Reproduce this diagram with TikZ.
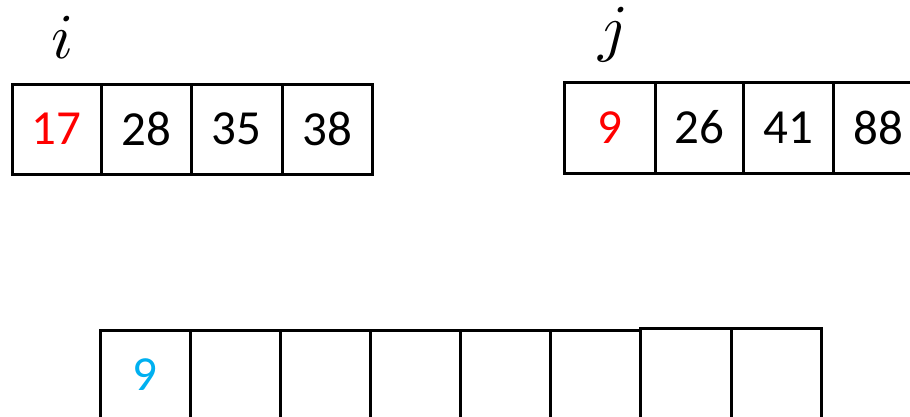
\documentclass[tikz,border=0pt]{standalone}
\usepackage{fontspec}
\setmainfont{Carlito}
\newfontfamily\idxfont{Latin Modern Math}
\definecolor{numred}{HTML}{FF0000}
\definecolor{numblue}{HTML}{00B0F0}
\tikzset{
  cell/.style={draw=black, line width=3pt, rectangle, inner sep=0pt, outer sep=0pt,
    minimum height=90pt, font=\fontsize{49}{49}\selectfont, text=black},
  idx/.style={inner sep=0pt, anchor=base, font=\idxfont\fontsize{64}{64}\selectfont}
}
\begin{document}
\begin{tikzpicture}[x=1pt,y=-1pt]
\useasboundingbox (0,0) rectangle (910,416);
\clip (0,0) rectangle (910,416);
% index labels
\node[idx] (ilab) at (63,58) {𝑖};
\node[idx] (jlab) at (612,49) {𝑗};
% left array
\node[cell, minimum width=89pt] (a1) at (56.5,129) {\textcolor{numred}{17}};
\node[cell, minimum width=90pt] (a2) at (146,129) {28};
\node[cell, minimum width=91pt] (a3) at (236.5,129) {35};
\node[cell, minimum width=90pt] (a4) at (327,129) {38};
% right array
\node[cell, minimum width=91pt, minimum height=91pt] (b1) at (609.5,127.5) {\textcolor{numred}{9}};
\node[cell, minimum width=88pt, minimum height=91pt] (b2) at (699,127.5) {26};
\node[cell, minimum width=90pt, minimum height=91pt] (b3) at (788,127.5) {41};
\node[cell, minimum width=90pt, minimum height=91pt] (b4) at (878,127.5) {88};
% bottom array
\node[cell, minimum width=90pt] (c1) at (145,375) {\textcolor{numblue}{9}};
\node[cell, minimum width=90pt] (c2) at (235,375) {};
\node[cell, minimum width=90pt] (c3) at (325,375) {};
\node[cell, minimum width=90pt] (c4) at (415,375) {};
\node[cell, minimum width=90pt] (c5) at (505,375) {};
\node[cell, minimum width=90pt] (c6) at (595,375) {};
\node[cell, minimum width=91pt, minimum height=92pt] (c7) at (685.5,374) {};
\node[cell, minimum width=90pt, minimum height=92pt] (c8) at (776,374) {};
\end{tikzpicture}
\end{document}
